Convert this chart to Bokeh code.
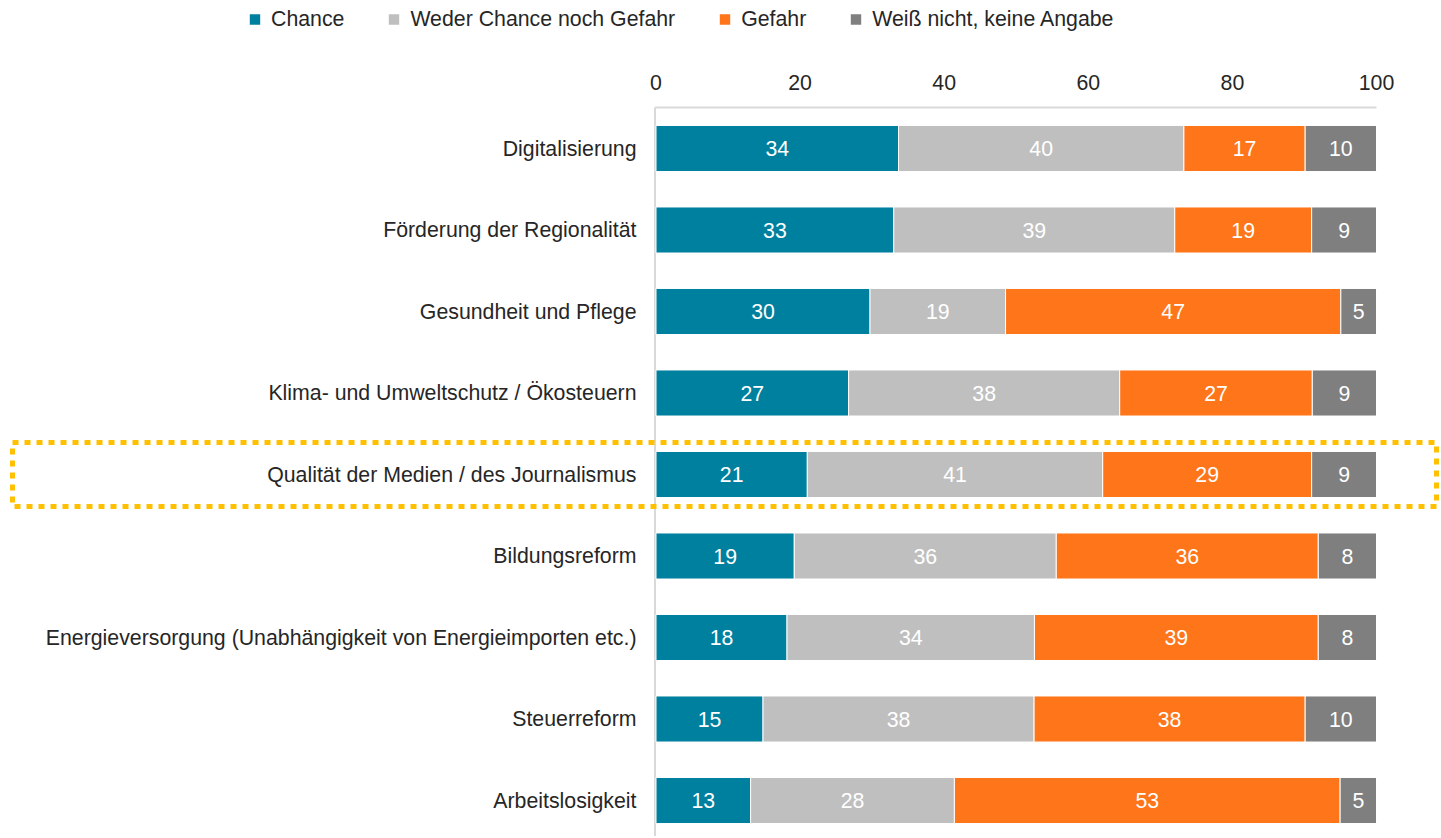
import numpy as np
from bokeh.plotting import figure
from bokeh.layouts import column
from bokeh.models import (ColumnDataSource, Range1d, FixedTicker, Legend, LegendItem)
from bokeh.core.properties import value
from bokeh.embed import file_html
from bokeh.resources import INLINE

# ---------------- data ----------------
categories = [
    "Digitalisierung",
    "Förderung der Regionalität",
    "Gesundheit und Pflege",
    "Klima- und Umweltschutz / Ökosteuern",
    "Qualität der Medien / des Journalismus",
    "Bildungsreform",
    "Energieversorgung (Unabhängigkeit von Energieimporten etc.)",
    "Steuerreform",
    "Arbeitslosigkeit",
]
chance = [34, 33, 30, 27, 21, 19, 18, 15, 13]
weder = [40, 39, 19, 38, 41, 36, 34, 38, 28]
gefahr = [17, 19, 47, 27, 29, 36, 39, 38, 53]
weiss = [10, 9, 5, 9, 9, 8, 8, 10, 5]
series_names = ["Chance", "Weder Chance noch Gefahr", "Gefahr", "Weiß nicht, keine Angabe"]
x_ticks = [0, 20, 40, 60, 80, 100]
highlight = "Qualität der Medien / des Journalismus"

# ---------------- styles / layout ----------------
colors = ["#00809F", "#BFBFBF", "#FF7519", "#7F7F7F"]
FONT = "Liberation Sans"
FS = "21.3px"
TXT = "#262626"
AXIS = "#D9D9D9"
W = 1440
LEG_H = 38
MAIN_H = 798
TOP_BORDER = 62          # frame top at page y = 100
PX0, PX100 = 655.5, 1376.0   # pixel of x=0 and x=100
ROW0_PX, ROW_PITCH = 148.0 - LEG_H, 81.5   # first row centre in main-figure pixels
BAR_H = 0.565

n = len(categories)
ypos = [n - 1 - i for i in range(n)]
vals = np.array([chance, weder, gefahr, weiss], dtype=float)
shares = vals / vals.sum(axis=0) * 100.0
rights = np.cumsum(shares, axis=0)
lefts = rights - shares

ppu = (PX100 - PX0) / 100.0


def px_to_x(px):
    return (px - PX0) / ppu


def py_to_y(py):   # main-figure pixel (from top) -> data y
    return (n - 1) - (py - ROW0_PX) / ROW_PITCH


x_range = Range1d(px_to_x(0), px_to_x(W))
y_range = Range1d(py_to_y(MAIN_H), py_to_y(TOP_BORDER))

p = figure(width=W, height=MAIN_H, x_range=x_range, y_range=y_range,
           x_axis_location="above", y_axis_location=None,
           output_backend="svg", toolbar_location=None,
           min_border_left=0, min_border_right=0, min_border_top=TOP_BORDER,
           min_border_bottom=0)
p.outline_line_color = None
p.xgrid.visible = False
p.ygrid.visible = False

# axis lines
y_top_line = py_to_y(107 - LEG_H)
p.segment(x0=[px_to_x(654.5)], y0=[y_top_line], x1=[px_to_x(654.5)], y1=[py_to_y(MAIN_H)],
          line_color=AXIS, line_width=2)
p.segment(x0=[px_to_x(654.5)], y0=[y_top_line], x1=[100], y1=[y_top_line],
          line_color=AXIS, line_width=2)

for k, name in enumerate(series_names):
    src = ColumnDataSource(dict(
        y=ypos, left=lefts[k], right=rights[k],
        mid=(lefts[k] + rights[k]) / 2.0,
        lab=[str(v) for v in vals[k].astype(int)],
    ))
    p.hbar(y="y", left="left", right="right", height=BAR_H, source=src,
           fill_color=colors[k], line_color="white", line_width=1)
    p.text(x="mid", y="y", text="lab", source=src, text_color="white",
           text_font=value(FONT), text_font_size=FS, text_align="center",
           text_baseline="middle")

# category labels
cat_src = ColumnDataSource(dict(x=[px_to_x(636)] * n, y=ypos, t=categories))
p.text(x="x", y="y", text="t", source=cat_src, text_color=TXT,
       text_font=value(FONT), text_font_size=FS, text_align="right",
       text_baseline="middle")

# highlight box
hy = ypos[categories.index(highlight)]
half = 32.0 / ROW_PITCH
p.quad(left=[px_to_x(12)], right=[px_to_x(1436)], top=[hy + half], bottom=[hy - half],
       fill_color=None, line_color="#FFC000", line_width=5, line_dash="6 6")

xa = p.xaxis[0]
xa.ticker = FixedTicker(ticks=x_ticks)
xa.major_label_text_font = FONT
xa.major_label_text_font_size = FS
xa.major_label_text_color = TXT
xa.axis_line_color = None
xa.major_tick_line_color = None
xa.minor_tick_line_color = None
xa.major_label_standoff = 5

# legend strip (one off-screen key bar per series, so the legend can draw its swatch)
lg = figure(width=W, height=LEG_H, x_range=Range1d(0, 1), y_range=Range1d(0, 1),
            x_axis_location=None, y_axis_location=None,
            output_backend="svg", toolbar_location=None, min_border=0)
lg.outline_line_color = None
lg.xgrid.visible = False
lg.ygrid.visible = False
items = []
for k, name in enumerate(series_names):
    r = lg.hbar(y=[-5], left=[0], right=[1], height=0.5, fill_color=colors[k], line_color=None)
    items.append(LegendItem(label=name, renderers=[r]))
legend = Legend(items=items, orientation="horizontal", location="center_left",
                margin=248, padding=0, spacing=43, label_standoff=10,
                glyph_width=13, glyph_height=13,
                label_text_font=FONT, label_text_font_size=FS, label_text_color=TXT,
                border_line_color=None, background_fill_alpha=0)
lg.add_layout(legend)

layout = column(lg, p, spacing=0)
open("out.html", "w").write(file_html(layout, INLINE))
